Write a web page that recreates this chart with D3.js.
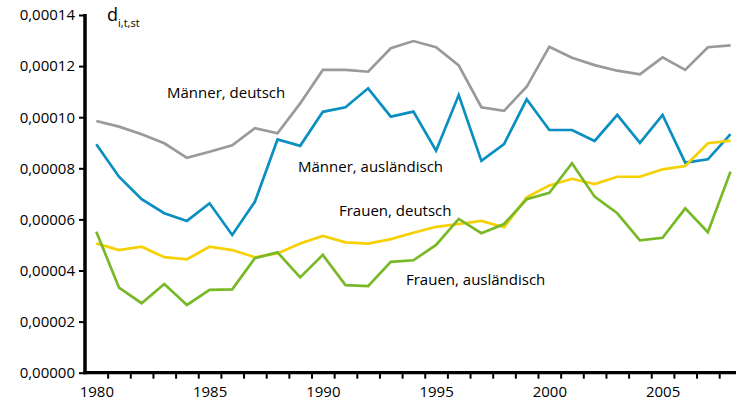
<!DOCTYPE html>
<html><head><meta charset="utf-8">
<script src="https://cdn.jsdelivr.net/npm/d3@7"></script>
<style>
html,body{margin:0;padding:0;background:#fff;}
svg{display:block;font-family:"Open Sans",sans-serif;}
</style></head>
<body>
<svg id="chart" width="736" height="404"></svg>
<script>
const years = d3.range(1980, 2009);
const maennerDeutsch = [9.85,9.63,9.33,8.98,8.41,8.65,8.90,9.57,9.37,10.54,11.85,11.85,11.78,12.70,12.98,12.74,12.03,10.39,10.25,11.19,12.76,12.33,12.04,11.82,11.68,12.34,11.85,12.74,12.81];
const maennerAuslaendisch = [8.94,7.67,6.79,6.24,5.94,6.63,5.39,6.69,9.13,8.88,10.21,10.39,11.13,10.02,10.22,8.69,10.87,8.29,8.95,10.70,9.50,9.50,9.07,10.09,9.00,10.09,8.22,8.35,9.34];
const frauenDeutsch = [5.06,4.80,4.93,4.52,4.44,4.93,4.80,4.52,4.67,5.06,5.35,5.10,5.05,5.23,5.48,5.71,5.82,5.94,5.69,6.86,7.33,7.59,7.38,7.67,7.67,7.96,8.09,8.98,9.08];
const frauenAuslaendisch = [5.52,3.33,2.72,3.47,2.65,3.24,3.26,4.48,4.71,3.73,4.61,3.43,3.39,4.34,4.40,5.00,6.02,5.46,5.82,6.79,7.04,8.20,6.89,6.24,5.18,5.28,6.43,5.50,7.87];
const yTicks = [0,0.00002,0.00004,0.00006,0.00008,0.00010,0.00012,0.00014];
const xLabels = [1980,1985,1990,1995,2000,2005];
const seriesNames = ["Männer, deutsch","Männer, ausländisch","Frauen, deutsch","Frauen, ausländisch"];
const seriesColors = ["#9a9a9a","#0a8fc0","#f6d000","#78b928"];
const seriesValues = [maennerDeutsch, maennerAuslaendisch, frauenDeutsch, frauenAuslaendisch];
const labelPos = [[167,98],[298,172],[339,216],[406,285]];

const svg = d3.select("#chart");
const x0 = 85, yBottom = 372.7, yTop = 15, step = 22.65;
const x = d3.scaleLinear().domain([1979.5, 2008.5]).range([x0, x0 + 29*step]);
const y = d3.scaleLinear().domain([0, 0.00014]).range([yBottom, yTop]);

// lines
const line = d3.line().x((d,i)=>x(years[i])).y(d=>y(d*1e-5));
seriesValues.forEach((vals,k)=>{
  svg.append("path").datum(vals).attr("d", line)
    .attr("fill","none").attr("stroke", seriesColors[k])
    .attr("stroke-width",2.7).attr("stroke-linejoin","miter");
});

// y axis
const yAxis = d3.axisLeft(y).tickValues(yTicks).tickSize(6).tickPadding(4)
  .tickFormat(d=>d3.format(".5f")(d).replace(".",","));
const gy = svg.append("g").attr("transform",`translate(${x0},0)`).call(yAxis);
gy.select(".domain").remove();
gy.selectAll(".tick line").attr("stroke","#000").attr("stroke-width",2);
gy.selectAll(".tick text").attr("font-size","15px").attr("fill","#000")
  .attr("font-family","'Open Sans',sans-serif");
svg.append("line").attr("x1",x0).attr("x2",x0).attr("y1",yTop-1).attr("y2",yBottom+1.5)
  .attr("stroke","#000").attr("stroke-width",3.5);

// x axis ticks at boundaries
const boundaries = d3.range(1980.5, 2008.5, 1);
const xAxisTicks = d3.axisBottom(x).tickValues(boundaries).tickSize(6).tickFormat("");
const gx = svg.append("g").attr("transform",`translate(0,${yBottom})`).call(xAxisTicks);
gx.select(".domain").remove();
gx.selectAll(".tick line").attr("stroke","#000").attr("stroke-width",2);
const xAxisLabels = d3.axisBottom(x).tickValues(xLabels).tickSize(0).tickPadding(14).tickFormat(d3.format("d"));
const gxl = svg.append("g").attr("transform",`translate(0,${yBottom})`).call(xAxisLabels);
gxl.select(".domain").remove();
gxl.selectAll(".tick text").attr("font-size","15px").attr("fill","#000")
  .attr("font-family","'Open Sans',sans-serif");
svg.append("line").attr("x1",x0-1.5).attr("x2",736).attr("y1",yBottom).attr("y2",yBottom)
  .attr("stroke","#000").attr("stroke-width",3.2);

// y title
const t = svg.append("text").attr("x",107).attr("y",21).attr("fill","#000");
t.append("tspan").attr("font-size","18px").text("d");
t.append("tspan").attr("font-size","11px").attr("dy",6).text("i,t,st");

// series labels
seriesNames.forEach((n,k)=>{
  svg.append("text").attr("x",labelPos[k][0]).attr("y",labelPos[k][1])
    .attr("font-size","15px").attr("fill","#000").text(n);
});
</script>
</body></html>
